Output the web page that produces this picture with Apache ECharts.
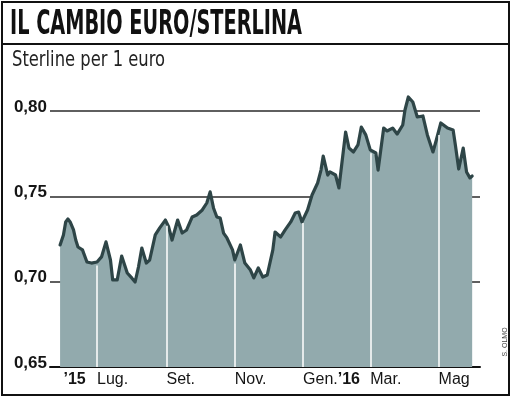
<!DOCTYPE html>
<html>
<head>
<meta charset="utf-8">
<script src="https://cdn.jsdelivr.net/npm/echarts@6/dist/echarts.min.js"></script>
<style>
html,body{margin:0;padding:0;background:#fff;}
#c{width:512px;height:398px;}
</style>
</head>
<body>
<div id="c"></div>
<script>
// ---- data ----
const dates = [
 '2015-05-29','2015-06-01','2015-06-03','2015-06-05','2015-06-07','2015-06-10','2015-06-12','2015-06-14','2015-06-18','2015-06-22','2015-06-26',
 '2015-07-01','2015-07-05','2015-07-09','2015-07-13','2015-07-15','2015-07-19','2015-07-23','2015-07-28',
 '2015-08-01','2015-08-04','2015-08-07','2015-08-10','2015-08-14','2015-08-17','2015-08-22','2015-08-26','2015-08-31',
 '2015-09-03','2015-09-06','2015-09-11','2015-09-15','2015-09-19','2015-09-24','2015-09-28',
 '2015-10-03','2015-10-07','2015-10-10','2015-10-13','2015-10-16','2015-10-19','2015-10-22','2015-10-25','2015-10-30',
 '2015-11-01','2015-11-06','2015-11-10','2015-11-15','2015-11-18','2015-11-22','2015-11-26','2015-11-30',
 '2015-12-05','2015-12-07','2015-12-12','2015-12-16','2015-12-21','2015-12-25','2015-12-28','2015-12-31',
 '2016-01-05','2016-01-09','2016-01-14','2016-01-17','2016-01-19','2016-01-23','2016-01-25','2016-01-30',
 '2016-02-02','2016-02-05','2016-02-08','2016-02-11','2016-02-15','2016-02-19','2016-02-22','2016-02-26',
 '2016-03-01','2016-03-06','2016-03-08','2016-03-13','2016-03-16','2016-03-21','2016-03-25','2016-03-30',
 '2016-04-01','2016-04-04','2016-04-08','2016-04-12','2016-04-17','2016-04-21','2016-04-26','2016-04-29',
 '2016-05-03','2016-05-09','2016-05-14','2016-05-16','2016-05-19','2016-05-23','2016-05-26','2016-05-29','2016-05-31'
];
const rates = [
 0.7215,0.7274,0.7350,0.7367,0.7350,0.7303,0.7244,0.7203,0.7186,0.7115,0.7109,
 0.7115,0.7145,0.7233,0.7127,0.7010,0.7010,0.7150,0.7051,
 0.7022,0.6998,0.7086,0.7197,0.7109,0.7127,0.7274,0.7315,0.7361,
 0.7320,0.7244,0.7361,0.7285,0.7303,0.7379,0.7391,
 0.7420,0.7461,0.7526,0.7432,0.7379,0.7373,0.7285,0.7256,0.7186,
 0.7127,0.7215,0.7109,0.7068,0.7022,0.7080,0.7027,0.7039,
 0.7186,0.7291,0.7262,0.7303,0.7350,0.7402,0.7408,0.7350,
 0.7420,0.7508,0.7578,0.7654,0.7736,0.7625,0.7643,0.7625,
 0.7549,0.7713,0.7877,0.7783,0.7760,0.7801,0.7906,0.7860,
 0.7772,0.7754,0.7654,0.7900,0.7883,0.7900,0.7865,0.7918,
 0.8006,0.8082,0.8053,0.7965,0.7971,0.7860,0.7760,0.7830,
 0.7930,0.7900,0.7889,0.7801,0.7660,0.7783,0.7643,0.7608,0.7619
];
const monthTickDates = ['2015-06-01','2015-07-01','2015-09-01','2015-11-01','2016-01-01','2016-03-01','2016-05-01'];
const monthTickLabels = ['{b|’15}','Lug.','Set.','Nov.','Gen.{b|’16}','Mar.','Mag'];
const monthLineDates = ['2015-07-01','2015-09-01','2015-11-01','2016-01-01','2016-03-01','2016-05-01'];
const yTicks = [0.65, 0.70, 0.75, 0.80];

const titleText = 'IL CAMBIO EURO/STERLINA';
const subtitleText = 'Sterline per 1 euro';
const creditText = 'S. OLMO';

// ---- helpers ----
const ORIGIN = Date.parse('2015-06-01T00:00:00Z');
function day(s){ return Math.round((Date.parse(s + 'T00:00:00Z') - ORIGIN) / 864e5); }
const pts = dates.map((d, i) => [day(d), rates[i]]);
function valueAt(x){
  for (let i = 1; i < pts.length; i++) {
    if (pts[i][0] >= x) {
      const a = pts[i-1], b = pts[i];
      return a[1] + (b[1] - a[1]) * (x - a[0]) / (b[0] - a[0]);
    }
  }
  return pts[pts.length-1][1];
}
const tickDays = monthTickDates.map(day);
function fitScale(text, font, target){
  const c = document.createElement('canvas').getContext('2d');
  c.font = font;
  return target / c.measureText(text).width;
}

const titleFont = 'bold 33px "Liberation Sans Narrow", "DejaVu Sans Condensed", sans-serif';
const subFont = '22px "Liberation Sans Narrow", "DejaVu Sans Condensed", sans-serif';
const lblFont = '"Liberation Sans", Arial, sans-serif';

const chart = echarts.init(document.getElementById('c'), null, {renderer: 'canvas'});
chart.setOption({
  animation: false,
  backgroundColor: '#fff',
  grid: {left: 50, right: 32, top: 111, bottom: 31, containLabel: false},
  xAxis: {
    type: 'value', min: -12, max: 372,
    axisLine: {show: true, lineStyle: {color: '#111', width: 2}},
    axisTick: {show: false},
    splitLine: {show: false},
    axisLabel: {
      customValues: tickDays,
      formatter: function(v){ const i = tickDays.indexOf(Math.round(v)); return i >= 0 ? monthTickLabels[i] : ''; },
      align: 'left', margin: 5,
      fontFamily: lblFont, fontSize: 16, color: '#151515',
      rich: {b: {fontFamily: lblFont, fontSize: 16, fontWeight: 'bold', color: '#151515'}}
    }
  },
  yAxis: {
    type: 'value', min: 0.65, max: 0.80, interval: 0.05,
    axisLine: {show: false}, axisTick: {show: false},
    splitLine: {show: true, lineStyle: {color: '#2a2a2a', width: 1.5}},
    axisLabel: {
      formatter: v => v.toFixed(2).replace('.', ','),
      fontFamily: lblFont, fontWeight: 'bold', fontSize: 17, color: '#151515',
      margin: 3, verticalAlign: 'bottom', lineHeight: 8
    }
  },
  series: [
    {
      type: 'line', data: pts, symbol: 'none', clip: false, z: 2,
      lineStyle: {width: 0, opacity: 0},
      areaStyle: {color: '#92aaad', origin: 'start', opacity: 1},
      markLine: {
        silent: true, symbol: ['none', 'none'], animation: false,
        label: {show: false},
        lineStyle: {color: '#ffffff', width: 1.5, type: 'solid', opacity: 1},
        data: monthLineDates.map(s => { const x = day(s); return [{coord: [x, 0.65]}, {coord: [x, valueAt(x) - 0.002]}]; })
      }
    },
    {
      type: 'line', data: pts, symbol: 'none', clip: false, z: 3,
      lineStyle: {color: '#2e4547', width: 3.2, join: 'round', cap: 'round'}
    }
  ],
  graphic: [
    {type: 'rect', shape: {x: 2, y: 2, width: 507, height: 393}, style: {fill: 'none', stroke: '#111', lineWidth: 2}, silent: true},
    {type: 'line', shape: {x1: 2, y1: 44, x2: 510, y2: 44}, style: {stroke: '#111', lineWidth: 2}, silent: true},
    {type: 'text', x: 10, y: 25, scaleX: fitScale(titleText, titleFont, 292),
      style: {text: titleText, font: titleFont, fill: '#111', textAlign: 'left', textVerticalAlign: 'middle'}},
    {type: 'text', x: 12, y: 60, scaleX: fitScale(subtitleText, subFont, 153),
      style: {text: subtitleText, font: subFont, fill: '#222', textAlign: 'left', textVerticalAlign: 'middle'}},
    {type: 'text', x: 505, y: 342, rotation: Math.PI / 2,
      style: {text: creditText, font: '7px "Liberation Sans", sans-serif', fill: '#444', textAlign: 'center', textVerticalAlign: 'middle'}}
  ]
});
</script>
</body>
</html>
